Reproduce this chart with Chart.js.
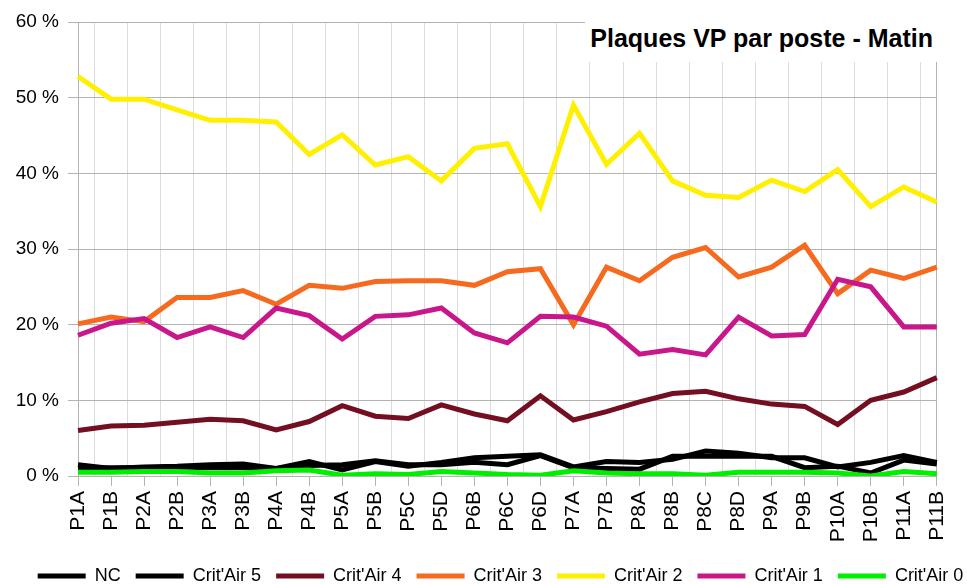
<!DOCTYPE html>
<html>
<head>
<meta charset="utf-8">
<script src="https://cdn.jsdelivr.net/npm/chart.js@4.4.1/dist/chart.umd.min.js"></script>
<style>
  html, body { margin: 0; padding: 0; background: #fff; }
  #wrap { position: relative; width: 967px; height: 584px; }
  #title {
    position: absolute; left: 585px; top: 20px; width: 356px; height: 42px;
    background: #fff; box-sizing: border-box; padding-right: 8px;
    font: bold 25px "Liberation Sans", Arial, sans-serif; line-height: 36px;
    text-align: right; color: #000;
  }
</style>
</head>
<body>
<div id="wrap">
  <canvas id="chart" width="967" height="584"></canvas>
  <div id="title">Plaques VP par poste - Matin</div>
</div>
<script>
const postes = ['P1A', 'P1B', 'P2A', 'P2B', 'P3A', 'P3B', 'P4A', 'P4B', 'P5A', 'P5B', 'P5C', 'P5D', 'P6B', 'P6C',
  'P6D', 'P7A', 'P7B', 'P8A', 'P8B', 'P8C', 'P8D', 'P9A', 'P9B', 'P10A', 'P10B', 'P11A', 'P11B'];

// % of plates per post
const nc = [1.5, 1.0, 1.2, 1.3, 1.5, 1.6, 1.0, 1.9, 0.8, 1.9, 1.3, 1.8, 2.4, 2.6, 2.8, 1.2, 1.9, 1.8, 2.2, 3.3, 3.0, 2.4, 2.4, 1.2, 1.8, 2.7, 1.8];
const critAir5 = [1.0, 1.1, 1.1, 1.2, 1.1, 1.1, 1.0, 1.4, 1.5, 2.0, 1.5, 1.5, 1.8, 1.5, 2.7, 1.1, 1.0, 0.9, 2.6, 2.6, 2.6, 2.6, 1.1, 1.3, 0.4, 2.1, 1.6];
const critAir4 = [6.0, 6.6, 6.7, 7.1, 7.5, 7.3, 6.1, 7.2, 9.3, 7.9, 7.6, 9.4, 8.2, 7.3, 10.6, 7.4, 8.5, 9.8, 10.9, 11.2, 10.2, 9.5, 9.2, 6.8, 10.0, 11.1, 13.0];
const critAir3 = [20.1, 21.0, 20.4, 23.6, 23.6, 24.5, 22.7, 25.2, 24.8, 25.7, 25.8, 25.8, 25.2, 27.0, 27.4, 20.0, 27.6, 25.8, 28.9, 30.2, 26.3, 27.6, 30.5, 24.1, 27.2, 26.1, 27.6];
const critAir2 = [52.8, 49.8, 49.8, 48.4, 47.0, 47.0, 46.8, 42.5, 45.1, 41.1, 42.2, 39.0, 43.3, 43.9, 35.6, 49.0, 41.2, 45.3, 39.0, 37.1, 36.8, 39.1, 37.6, 40.5, 35.6, 38.2, 36.2];
const critAir1 = [18.6, 20.2, 20.8, 18.3, 19.7, 18.3, 22.2, 21.2, 18.1, 21.1, 21.3, 22.2, 18.9, 17.6, 21.1, 21.0, 19.8, 16.1, 16.7, 16.0, 21.0, 18.5, 18.7, 26.0, 25.0, 19.7, 19.7];
const critAir0 = [0.5, 0.5, 0.6, 0.6, 0.4, 0.4, 0.7, 0.8, 0.1, 0.3, 0.2, 0.6, 0.4, 0.2, 0.1, 0.7, 0.4, 0.3, 0.3, 0.1, 0.5, 0.5, 0.5, 0.4, 0.0, 0.6, 0.3];

const yTicks = [0, 10, 20, 30, 40, 50, 60];

const FONT = '"Liberation Sans", Arial, sans-serif';
const GRID = '#b3b3b3';

function serie(label, data, color, order) {
    return {
        label: label,
        data: data,
        borderColor: color,
        backgroundColor: color,
        borderWidth: 5,
        pointRadius: 0,
        tension: 0,
        order: order
    };
}

// move the legend down/right a bit, chart.js centres it on the full width
const legendShift = {
    id: 'legendShift',
    afterUpdate: function (chart) {
        const lg = chart.legend;
        lg.left += 17; lg.right += 17;
        lg.top += 11; lg.bottom += 11;
    }
};

new Chart(document.getElementById('chart').getContext('2d'), {
    type: 'line',
    data: {
        labels: postes,
        datasets: [
            serie('NC', nc, '#000000', 7),
            serie("Crit'Air 5", critAir5, '#000000', 6),
            serie("Crit'Air 4", critAir4, '#730f20', 5),
            serie("Crit'Air 3", critAir3, '#f56a1f', 4),
            serie("Crit'Air 2", critAir2, '#fff000', 3),
            serie("Crit'Air 1", critAir1, '#c8178a', 2),
            serie("Crit'Air 0", critAir0, '#00ee00', 1)
        ]
    },
    options: {
        responsive: false,
        animation: false,
        layout: { padding: { top: 22, left: 0, right: 0, bottom: 0 } },
        plugins: {
            title: { display: false },
            tooltip: { enabled: false },
            legend: {
                position: 'bottom',
                labels: {
                    usePointStyle: true,
                    pointStyle: 'line',
                    pointStyleWidth: 48,
                    padding: 15,
                    color: '#000',
                    font: { family: FONT, size: 18 },
                    sort: (a, b) => a.datasetIndex - b.datasetIndex
                }
            }
        },
        scales: {
            x: {
                type: 'category',
                offset: false,
                grid: {
                    color: (c) => c.index === postes.length - 1 ? GRID : 'rgba(0,0,0,0)',
                    tickColor: GRID,
                    tickLength: 10
                },
                border: { display: true, color: GRID },
                ticks: {
                    autoSkip: false,
                    maxRotation: 90,
                    minRotation: 90,
                    padding: 5,
                    color: '#000',
                    font: { family: FONT, size: 21 }
                },
                afterFit: (s) => { s.height = 65; }
            },
            x2: {
                type: 'category',
                position: 'bottom',
                offset: false,
                grid: { offset: true, color: '#dcdcdc', drawTicks: false },
                border: { display: false },
                ticks: { display: false },
                afterFit: (s) => { s.height = 0; }
            },
            y: {
                min: 0,
                max: 60,
                afterBuildTicks: (s) => { s.ticks = yTicks.map(v => ({ value: v })); },
                grid: { color: GRID, tickLength: 10 },
                border: { display: true, color: GRID },
                ticks: {
                    padding: 9,
                    color: '#000',
                    font: { family: FONT, size: 19 },
                    callback: (v) => v + ' %'
                },
                afterFit: (s) => { s.width = 78; }
            },
            y2: {
                position: 'right',
                min: 0,
                max: 60,
                grid: { drawOnChartArea: false, drawTicks: false },
                border: { display: false },
                ticks: { display: false },
                afterFit: (s) => { s.width = 26; }
            }
        }
    },
    plugins: [legendShift]
});
</script>
</body>
</html>
